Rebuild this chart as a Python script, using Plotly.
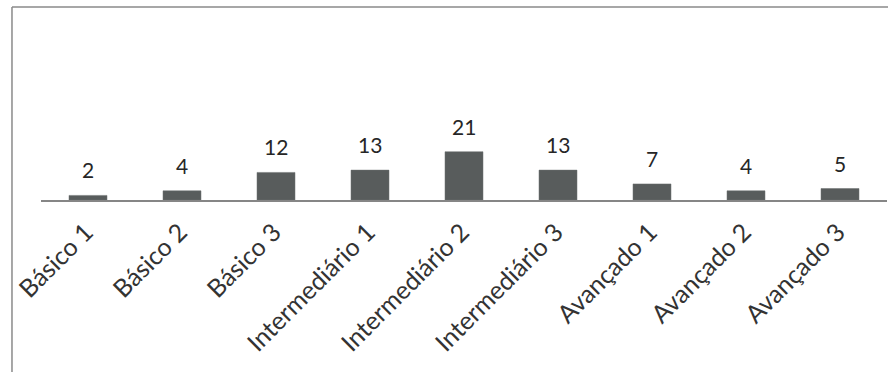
import plotly.graph_objects as go

categories = ["Básico 1", "Básico 2", "Básico 3", "Intermediário 1", "Intermediário 2",
              "Intermediário 3", "Avançado 1", "Avançado 2", "Avançado 3"]
values = [2, 4, 12, 13, 21, 13, 7, 4, 5]

FONT = "Lato"
fig = go.Figure()
fig.add_trace(go.Bar(
    x=categories, y=values,
    marker=dict(color="#585c5c", line=dict(color="#6a6e6e", width=0.5)),
    hoverinfo="x+y",
))

for c, v in zip(categories, values):
    fig.add_annotation(x=c, y=v, text=str(v), showarrow=False, yanchor="bottom",
                       yshift=11, font=dict(family=FONT, size=21, color="#262626"))

# chart frame (left and top edges visible)
fig.add_shape(type="line", xref="paper", yref="paper", x0=-0.0343, x1=-0.0343,
              y0=1.072, y1=-0.96, line=dict(color="#8a8a8a", width=1.5))
fig.add_shape(type="line", xref="paper", yref="paper", x0=-0.0343, x1=1.01,
              y0=1.072, y1=1.072, line=dict(color="#8a8a8a", width=1.5))

fig.update_layout(
    width=888, height=372,
    margin=dict(l=41, r=1, t=20, b=172),
    paper_bgcolor="white", plot_bgcolor="white",
    bargap=0.596, showlegend=False,
    font=dict(family=FONT, size=18, color="#333333"),
    xaxis=dict(showline=True, linecolor="#868686", linewidth=1.5, ticks="",
               tickangle=-45, tickfont=dict(family=FONT, size=25, color="#333333"),
               ticklabelstandoff=6, ticklabelshift=-2, showgrid=False, zeroline=False),
    yaxis=dict(range=[0, 78.3], visible=False, showgrid=False, zeroline=False),
)

fig.write_html("out.html")
